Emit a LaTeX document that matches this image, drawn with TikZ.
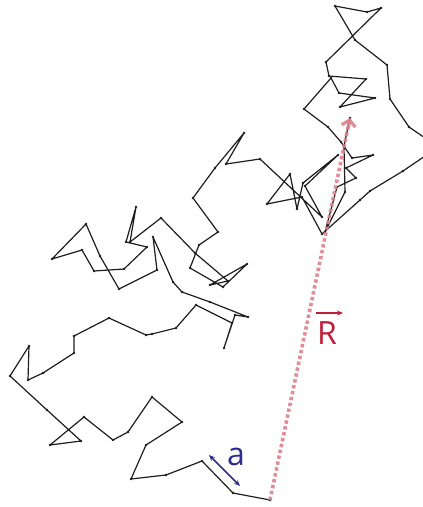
\documentclass[tikz,border=0pt]{standalone}
\usepackage{fontspec}
\setmainfont{Open Sans}
\usetikzlibrary{arrows.meta}
\definecolor{chainc}{RGB}{30,30,30}
\definecolor{pinkc}{RGB}{222,128,142}
\definecolor{redc}{RGB}{190,30,55}
\definecolor{bluec}{RGB}{45,45,145}
\tikzset{
  chain/.style={draw=chainc, line width=1.2pt, line join=round},
  bead/.style={fill=chainc},
  rline/.style={draw=pinkc, line width=3.6pt, dash pattern=on 3.4pt off 2.6pt, opacity=0.9},
  rtip/.style={draw=pinkc, line width=3.2pt, opacity=0.9, -{Straight Barb[length=6pt,width=14pt]}},
  bond/.style={draw=bluec, line width=1.5pt, {Stealth[length=6pt,width=5pt]}-{Stealth[length=6pt,width=5pt]}},
  vecarrow/.style={draw=redc, line width=1.3pt, -{Stealth[length=6pt,width=5pt]}},
  lbl/.style={inner sep=0pt, font=\fontsize{32}{32}\selectfont}
}
\begin{document}
\begin{tikzpicture}[x=1pt,y=-1pt]
\useasboundingbox (0,0) rectangle (423,507);
\clip (0,0) rectangle (423,507);
\foreach \px/\py [count=\i] in {
270/500, 233/493, 202/461, 166/475, 131/479, 146/445, 182/422, 152/397, 128/432, 113/440,
84/417, 50/445, 81/441, 47/410, 10/376, 29/346, 28/380, 43/373, 74/353, 74/336,
109/318, 146/335, 152/334, 176/328, 196/305, 232/323, 224/348, 235/315, 248/317, 210/302,
182/292, 173/282, 153/237, 157/270, 119/289, 100/256, 86/224, 52/259, 82/250, 94/271,
124/269, 147/247, 126/242, 136/207, 130/242, 161/218, 195/253, 228/281, 210/285, 247/264,
223/287, 190/268, 199/245, 218/232, 193/198, 215/168, 244/133, 226/164, 260/159, 322/217,
305/186, 338/155, 303/183, 297/209, 290/174, 267/204, 302/197, 322/234, 360/200, 370/191,
403/171, 428/154, 428/140, 409/127, 390/99, 387/65, 355/40, 335/6, 367/12, 381/8,
326/62, 329/76, 366/79, 340/107, 375/98, 339/93, 331/78, 304/109, 328/127, 341/142,
352/158, 373/155, 346/168, 356/178, 337/187, 325/232, 345/192, 344/146, 350/118}
{ \coordinate (v\i) at (\px,\py); }
\draw[chain] (v1) \foreach \i in {2,...,99} { -- (v\i) };
\foreach \i in {1,...,99} { \fill[bead] (v\i) circle (1.3); }
% end-to-end vector R
\draw[rline] (v1) -- (v99);
\coordinate (rtipstart) at (348.2,128);
\draw[rtip] (rtipstart) -- (v99);
% bond length a
\coordinate (ba) at (209,455);
\coordinate (bb) at (240,486);
\draw[bond] (ba) -- (bb);
\node[lbl, text=bluec, anchor=base west] (alabel) at (227,465) {a};
% label R with vector arrow
\node[lbl, text=redc, anchor=base west] (rlabel) at (317,344) {R};
\coordinate (va) at (316,313);
\coordinate (vb) at (343,313);
\draw[vecarrow] (va) -- (vb);
\end{tikzpicture}
\end{document}
